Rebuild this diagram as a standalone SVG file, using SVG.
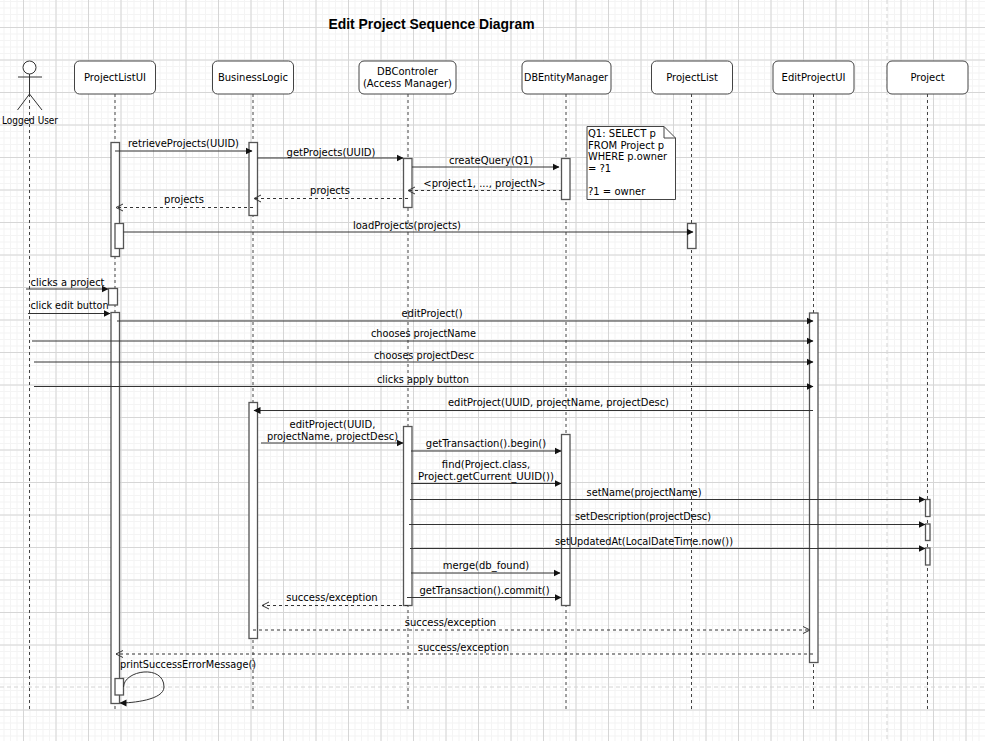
<svg xmlns="http://www.w3.org/2000/svg" width="985" height="741" viewBox="0 0 985 741">
<style>
text{font-family:"DejaVu Sans","Liberation Sans",sans-serif;font-size:10px;fill:#000;text-anchor:middle}
.l{text-anchor:start}
.title{font-family:"Liberation Sans",Arial,sans-serif;font-weight:bold;font-size:13.900px}
.box{fill:#fff;stroke:#444;stroke-width:1}
.act{fill:#fff;stroke:#555;stroke-width:1.3}
.life{fill:none;stroke:#444;stroke-width:1;stroke-dasharray:3 3}
.m{fill:none;stroke:#333;stroke-width:1;marker-end:url(#solid)}
.r{fill:none;stroke:#333;stroke-width:1;stroke-dasharray:3 3;marker-end:url(#open)}
.pg{fill:none;stroke:#d4d4d4;stroke-width:1;stroke-dasharray:4 3}
</style>
<defs>
<marker id="solid" markerUnits="userSpaceOnUse" markerWidth="8" markerHeight="8" refX="6.500" refY="4" orient="auto"><path d="M0 0.500L7 4L0 7.500Z" fill="#111"/></marker>
<marker id="open" markerUnits="userSpaceOnUse" markerWidth="10" markerHeight="10" refX="8" refY="5" orient="auto"><path d="M1 1.500L8 5L1 8.500" fill="none" stroke="#333" stroke-width="1"/></marker>
</defs>
<g id="background">
<rect width="985" height="741" fill="#fff"/>
<path d="M0 370.500H985" fill="none" stroke="#f4f4f4" stroke-width="741" stroke-dasharray="1 5.500" stroke-dashoffset="-3.500"/>
<path d="M492.500 0V741" fill="none" stroke="#f4f4f4" stroke-width="985" stroke-dasharray="1 5.500" stroke-dashoffset="-1"/>
<path fill="none" stroke="#d6d6d6" stroke-width="1" d="M23.500 0V741M56 0V741M88.500 0V741M121 0V741M153.500 0V741M186 0V741M218.500 0V741M251 0V741M283.500 0V741M316 0V741M348.500 0V741M381 0V741M413.500 0V741M446 0V741M478.500 0V741M511 0V741M543.500 0V741M576 0V741M608.500 0V741M641 0V741M673.500 0V741M706 0V741M738.500 0V741M771 0V741M803.500 0V741M836 0V741M868.500 0V741M901 0V741M933.500 0V741M966 0V741M0 27.500H985M0 60H985M0 92.500H985M0 125H985M0 157.500H985M0 190H985M0 222.500H985M0 255H985M0 287.500H985M0 320H985M0 352.500H985M0 385H985M0 417.500H985M0 450H985M0 482.500H985M0 515H985M0 547.500H985M0 580H985M0 612.500H985M0 645H985M0 677.500H985M0 710H985"/>
<path class="pg" d="M887 0V741M0 687H985"/>
</g>
<text id="title" class="title" x="431.500" y="29">Edit Project Sequence Diagram</text>

<g id="lifelines">
<path class="life" d="M29.500 94V710"/>
<path class="life" d="M115 94V710"/>
<path class="life" d="M253 94V710"/>
<path class="life" d="M408 94V710"/>
<path class="life" d="M566 94V710"/>
<path class="life" d="M691.500 94V710"/>
<path class="life" d="M813.500 94V710"/>
<path class="life" d="M927.500 94V710"/>
</g>

<g id="actor-logged-user">
<circle cx="29.500" cy="67.500" r="6.500" fill="#fff" stroke="#333"/>
<path d="M29.500 74V94M18 77H42M29.500 94L17.500 110M29.500 94L42 110" fill="none" stroke="#333"/>
<text x="30" y="124" textLength="56" lengthAdjust="spacingAndGlyphs">Logged User</text>
</g>
<g id="node-projectlistui"><rect class="box" x="74.500" y="61" width="81" height="33" rx="5"/><text x="115" y="81">ProjectListUI</text></g>
<g id="node-businesslogic"><rect class="box" x="212.500" y="61" width="81" height="33" rx="5"/><text x="253" y="81">BusinessLogic</text></g>
<g id="node-dbcontroler"><rect class="box" x="359" y="61" width="97" height="33" rx="5"/><text x="407.500" y="75">DBControler</text><text x="407.500" y="87">(Access Manager)</text></g>
<g id="node-dbentitymanager"><rect class="box" x="522" y="61" width="89" height="33" rx="5"/><text x="566" y="81" textLength="84" lengthAdjust="spacingAndGlyphs">DBEntityManager</text></g>
<g id="node-projectlist"><rect class="box" x="651.500" y="61" width="81" height="33" rx="5"/><text x="692" y="81">ProjectList</text></g>
<g id="node-editprojectui"><rect class="box" x="773" y="61" width="81" height="33" rx="5"/><text x="813.500" y="81">EditProjectUI</text></g>
<g id="node-project"><rect class="box" x="887" y="61" width="81" height="33" rx="5"/><text x="927.500" y="81">Project</text></g>

<g id="note-q1">
<path d="M587 126.500H664L675.500 138V199.500H587Z" fill="#fff" stroke="#444"/>
<path d="M664 126.500V138H675.500" fill="none" stroke="#444"/>
<text class="l" x="588" y="137">Q1: SELECT p</text>
<text class="l" x="588" y="148.500">FROM Project p</text>
<text class="l" x="588" y="160" textLength="79" lengthAdjust="spacingAndGlyphs">WHERE p.owner</text>
<text class="l" x="588" y="172">= ?1</text>
<text class="l" x="588" y="195">?1 = owner</text>
</g>

<g id="activations">
<rect class="act" x="111" y="142.500" width="8.500" height="114"/>
<rect class="act" x="115" y="223.500" width="8.500" height="25"/>
<rect class="act" x="249" y="142.500" width="8.500" height="73"/>
<rect class="act" x="403.500" y="158.500" width="8.500" height="49"/>
<rect class="act" x="561.500" y="158.500" width="8.500" height="41"/>
<rect class="act" x="687.500" y="223.500" width="8.500" height="25"/>
<rect class="act" x="108.500" y="288.500" width="9" height="16.500"/>
<rect class="act" x="111" y="312.500" width="8.500" height="391"/>
<rect class="act" x="115" y="678.500" width="8.500" height="16.500"/>
<rect class="act" x="249" y="402.500" width="8.500" height="236"/>
<rect class="act" x="809.500" y="313" width="8.500" height="349.500"/>
<rect class="act" x="403.500" y="426.500" width="8.500" height="179"/>
<rect class="act" x="561.500" y="434.500" width="8.500" height="171"/>
<rect class="act" x="925.500" y="499.500" width="4.500" height="17"/>
<rect class="act" x="925.500" y="524" width="4.500" height="16.500"/>
<rect class="act" x="925.500" y="548" width="4.500" height="17"/>
</g>

<g id="connectors">
<path class="m" d="M115 151H252"/>
<path class="m" d="M257.500 158H403"/>
<path class="m" d="M412 167H559"/>
<path class="r" d="M562 190.500H408"/>
<path class="r" d="M408 198.500H254"/>
<path class="r" d="M253 207.500H116"/>
<path class="m" d="M123.500 232H693"/>
<path class="m" d="M26 289H108"/>
<path class="m" d="M28 313.500H110"/>
<path class="m" d="M117 321H813"/>
<path class="m" d="M32 341H813"/>
<path class="m" d="M34 362H813"/>
<path class="m" d="M34 386.500H813"/>
<path class="m" d="M813 410.500H254"/>
<path class="m" d="M261 443H403"/>
<path class="m" d="M411 451H561"/>
<path class="m" d="M411 483.500H561"/>
<path class="m" d="M410 499.500H925"/>
<path class="m" d="M409 524.500H925"/>
<path class="m" d="M410 548.500H925"/>
<path class="m" d="M411 573H560"/>
<path class="m" d="M407 597.500H561"/>
<path class="r" d="M408 605.500H262"/>
<path class="r" d="M253 630H810"/>
<path class="r" d="M813 654H116"/>
<path class="m" d="M123.500 687C124 670 164 664 164 687C164 700 132 703 120 703"/>
</g>

<g id="connector-labels">
<text x="183.500" y="146.500" textLength="111" lengthAdjust="spacingAndGlyphs">retrieveProjects(UUID)</text>
<text x="331" y="155.500">getProjects(UUID)</text>
<text x="491" y="163.500">createQuery(Q1)</text>
<text x="484.500" y="187">&lt;project1, ..., projectN&gt;</text>
<text x="330" y="194">projects</text>
<text x="184" y="203">projects</text>
<text x="407" y="228.500" textLength="108" lengthAdjust="spacingAndGlyphs">loadProjects(projects)</text>
<text class="l" x="30.500" y="285.500" textLength="74" lengthAdjust="spacingAndGlyphs">clicks a project</text>
<text class="l" x="30.500" y="309" textLength="78" lengthAdjust="spacingAndGlyphs">click edit button</text>
<text x="432" y="317">editProject()</text>
<text x="423.500" y="337" textLength="105" lengthAdjust="spacingAndGlyphs">chooses projectName</text>
<text x="424" y="358.500" textLength="100" lengthAdjust="spacingAndGlyphs">chooses projectDesc</text>
<text x="423" y="383" textLength="92" lengthAdjust="spacingAndGlyphs">clicks apply button</text>
<text x="558.500" y="406" textLength="221" lengthAdjust="spacingAndGlyphs">editProject(UUID, projectName, projectDesc)</text>
<text x="332.500" y="427.500">editProject(UUID,</text>
<text x="332.500" y="439.500" textLength="131" lengthAdjust="spacingAndGlyphs">projectName, projectDesc)</text>
<text x="486" y="447">getTransaction().begin()</text>
<text x="486" y="468">find(Project.class,</text>
<text x="486" y="480" textLength="136" lengthAdjust="spacingAndGlyphs">Project.getCurrent_UUID())</text>
<text x="644" y="496" textLength="115" lengthAdjust="spacingAndGlyphs">setName(projectName)</text>
<text x="643" y="520" textLength="136" lengthAdjust="spacingAndGlyphs">setDescription(projectDesc)</text>
<text x="644" y="545" textLength="178" lengthAdjust="spacingAndGlyphs">setUpdatedAt(LocalDateTime.now())</text>
<text x="486" y="569">merge(db_found)</text>
<text x="484.500" y="593.500">getTransaction().commit()</text>
<text x="332" y="601">success/exception</text>
<text x="450.500" y="626">success/exception</text>
<text x="463.500" y="650.500">success/exception</text>
<text class="l" x="120" y="668" textLength="136" lengthAdjust="spacingAndGlyphs">printSuccessErrorMessage()</text>
</g>
</svg>
